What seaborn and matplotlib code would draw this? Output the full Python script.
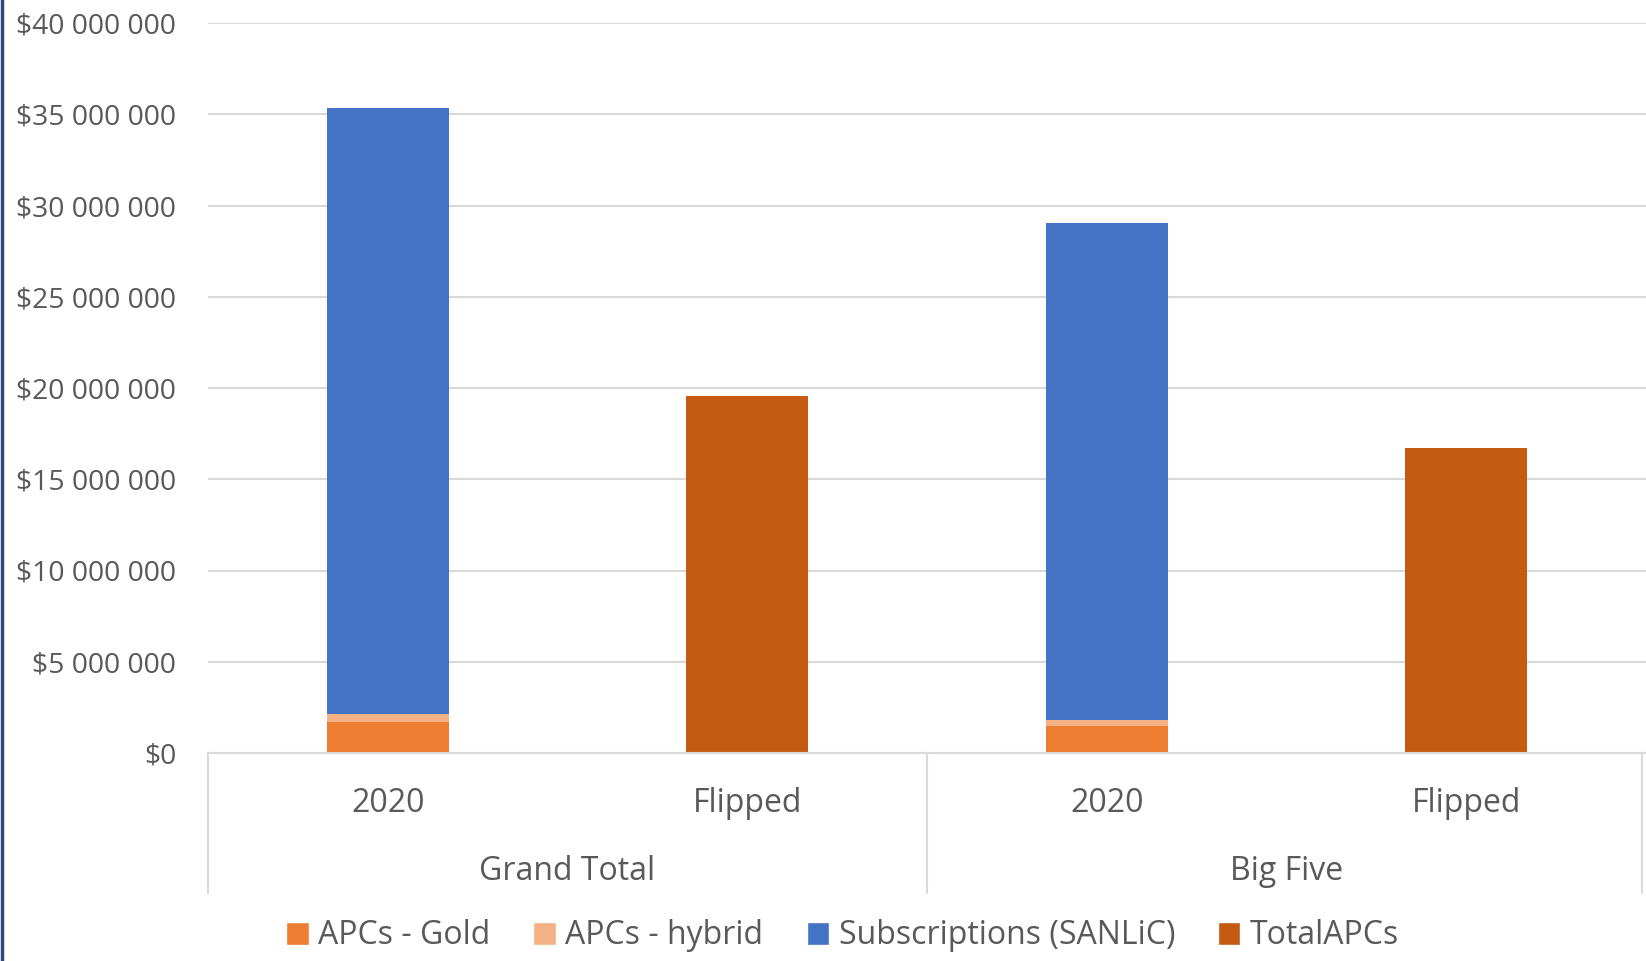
import pandas as pd
import matplotlib.pyplot as plt
import seaborn as sns
from matplotlib.patches import Patch
from matplotlib.lines import Line2D
from matplotlib.ticker import FuncFormatter
import matplotlib.transforms as mtransforms

# Dados (USD)
grupos = ['Grand Total', 'Grand Total', 'Big Five', 'Big Five']
cenarios = ['2020', 'Flipped', '2020', 'Flipped']
apc_gold = [1720000, 0, 1480000, 0]
apc_hybrid = [420000, 0, 330000, 0]
assinaturas = [33190000, 0, 27250000, 0]
total_apcs = [0, 19560000, 0, 16690000]

cores = {'APCs - Gold': '#ED7D31', 'APCs - hybrid': '#F4B183',
         'Subscriptions (SANLiC)': '#4472C4', 'TotalAPCs': '#C55A11'}

df = pd.DataFrame({'grupo': grupos, 'cenario': cenarios, 'gold': apc_gold,
                   'hybrid': apc_hybrid, 'subs': assinaturas, 'total': total_apcs})
df['chave'] = df['grupo'] + '|' + df['cenario']
df['c1'] = df['gold']
df['c2'] = df['gold'] + df['hybrid']
df['c3'] = df['c2'] + df['subs']
ordem = list(df['chave'])

sns.set_style('white')
plt.rcParams['font.family'] = ['Open Sans', 'DejaVu Sans']

fig = plt.figure(figsize=(16.46, 9.61), dpi=100)
ax = fig.add_axes([208 / 1646, 1 - 753 / 961, 1 - 208 / 1646, (753 - 23) / 961])

largura = 0.34
# barras empilhadas: desenha da maior para a menor
sns.barplot(data=df, x='chave', y='c3', order=ordem, color=cores['Subscriptions (SANLiC)'],
            width=largura, saturation=1, linewidth=0, ax=ax)
sns.barplot(data=df, x='chave', y='c2', order=ordem, color=cores['APCs - hybrid'],
            width=largura, saturation=1, linewidth=0, ax=ax)
sns.barplot(data=df, x='chave', y='c1', order=ordem, color=cores['APCs - Gold'],
            width=largura, saturation=1, linewidth=0, ax=ax)
sns.barplot(data=df, x='chave', y='total', order=ordem, color=cores['TotalAPCs'],
            width=largura, saturation=1, linewidth=0, ax=ax)

ax.set_xlim(-0.5, 3.5)
ax.set_ylim(0, 40000000)
ax.set_yticks(range(0, 40000001, 5000000))
ax.yaxis.set_major_formatter(FuncFormatter(lambda v, p: '$' + f'{int(v):,}'.replace(',', ' ')))
ax.tick_params(axis='y', length=0, labelsize=20.3, labelcolor='#595959', pad=23)
ax.set_xticks([])
ax.set_xlabel('')
ax.set_ylabel('')
ax.grid(axis='y', color='#D9D9D9', linewidth=1.5)
ax.set_axisbelow(True)
for lado in ['top', 'left', 'right']:
    ax.spines[lado].set_visible(False)
ax.spines['bottom'].set_color('#D9D9D9')
ax.spines['bottom'].set_linewidth(1.5)

# rótulos do eixo x em dois níveis
trans = mtransforms.blended_transform_factory(ax.transData, fig.transFigure)
for i, c in enumerate(cenarios):
    ax.text(i, 1 - 804 / 961, c, transform=trans, ha='center', va='center',
            fontsize=23, color='#595959')
for i, g in enumerate(['Grand Total', 'Big Five']):
    ax.text(2 * i + 0.5, 1 - 872 / 961, g, transform=trans, ha='center', va='center',
            fontsize=23, color='#595959')
for xs in [-0.5, 1.5, 3.49]:
    ax.add_line(Line2D([xs, xs], [1 - 753 / 961, 1 - 893 / 961], transform=trans,
                       color='#D9D9D9', linewidth=1.5, clip_on=False))

handles = [Patch(facecolor=v, label=k) for k, v in cores.items()]
fig.legend(handles=handles, loc='center', bbox_to_anchor=(0.512, 1 - 936 / 961), ncol=4,
           frameon=False, fontsize=23, handlelength=0.7, handleheight=0.7,
           handletextpad=0.3, columnspacing=1.35, labelcolor='#595959')

# borda escura à esquerda
fig.add_artist(Line2D([0.001, 0.001], [0, 1], transform=fig.transFigure,
                      color='#2F4A7A', linewidth=2.5))

plt.savefig('out.png', dpi=100)
plt.close()
